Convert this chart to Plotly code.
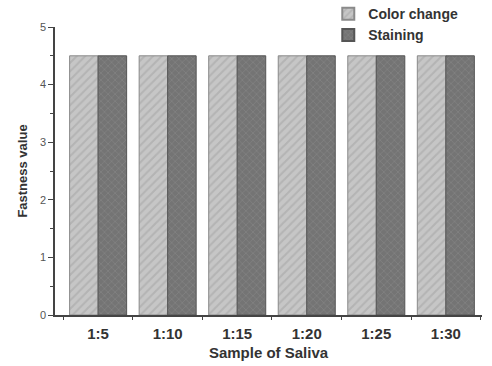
import plotly.graph_objects as go

categories = ["1:5", "1:10", "1:15", "1:20", "1:25", "1:30"]
color_change = [4.5, 4.5, 4.5, 4.5, 4.5, 4.5]
staining = [4.5, 4.5, 4.5, 4.5, 4.5, 4.5]

fig = go.Figure()
fig.add_trace(go.Bar(
    x=categories, y=color_change, name="Color change",
    marker=dict(color="#c6c6c6", line=dict(color="#8a8a8a", width=1),
                pattern=dict(shape="/", fgcolor="#a2a2a2", size=6, solidity=0.35)),
))
fig.add_trace(go.Bar(
    x=categories, y=staining, name="Staining",
    marker=dict(color="#747474", line=dict(color="#555555", width=1),
                pattern=dict(shape="x", fgcolor="#8e8e8e", size=5, solidity=0.3)),
))

fig.update_layout(
    width=492, height=366,
    margin=dict(l=55, r=10, t=27, b=51, autoexpand=False),
    paper_bgcolor="white", plot_bgcolor="white",
    barmode="group", bargap=0.18, bargroupgap=0,
    font=dict(family="Liberation Sans, Arial, sans-serif", color="#333"),
    showlegend=True,
    legend=dict(x=0.64, y=1.10, xanchor="left", yanchor="top",
                bgcolor="rgba(0,0,0,0)", tracegroupgap=0,
                font=dict(size=14, color="#333", family="Liberation Sans, Arial, sans-serif", weight="bold"),
                itemsizing="constant"),
    xaxis=dict(
        range=[-0.62, 5.52], showline=True, linecolor="#444", linewidth=1.5,
        ticks="outside", tickson="boundaries", ticklen=3, tickcolor="#444",
        ticklabelstandoff=4, automargin=False,
        tickfont=dict(size=15, color="#333", weight="bold"),
        title=dict(text="<b>Sample of Saliva</b>", font=dict(size=15, color="#333"), standoff=7),
        showgrid=False, zeroline=False,
    ),
    yaxis=dict(
        range=[0, 5], showline=True, linecolor="#444", linewidth=1.5,
        ticks="outside", ticklen=5, tickcolor="#444", dtick=1,
        minor=dict(ticks="outside", ticklen=3, dtick=0.5, tickcolor="#444"),
        tickfont=dict(size=11, color="#555"), automargin=False,
        title=dict(text="<b>Fastness value</b>", font=dict(size=13, color="#333"), standoff=9),
        showgrid=False, zeroline=False,
    ),
)

fig.write_html("out.html")
